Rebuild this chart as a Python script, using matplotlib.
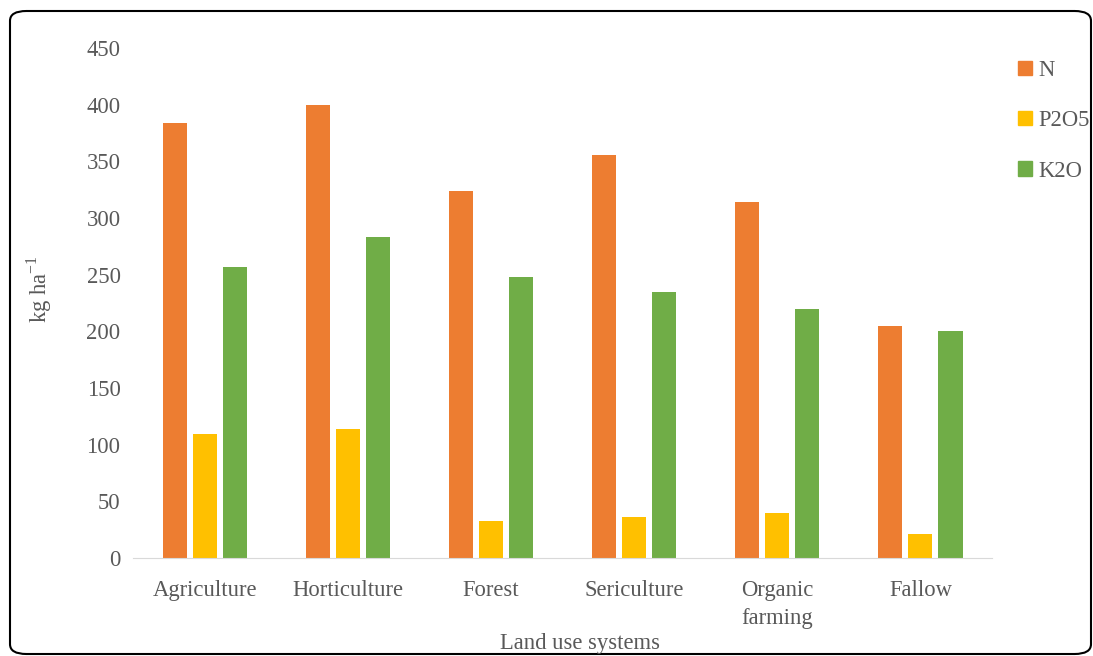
import matplotlib
matplotlib.use("Agg")
import matplotlib.pyplot as plt
import numpy as np
from matplotlib.patches import FancyBboxPatch, Patch

categories = ["Agriculture", "Horticulture", "Forest", "Sericulture", "Organic\nfarming", "Fallow"]
n_vals = [384, 400, 324, 356, 314, 205]
p2o5_vals = [109, 114, 33, 36, 40, 21]
k2o_vals = [257, 283, 248, 235, 220, 200]
series = ["N", "P2O5", "K2O"]
colors = ["#ED7D31", "#FFC000", "#70AD47"]

plt.rcParams["font.family"] = ["Liberation Serif", "DejaVu Serif"]
grey = "#595959"
fs = 16.3

fig = plt.figure(figsize=(10.93, 6.56), dpi=100)
ax = fig.add_axes([0.1217, 0.1494, 0.7859, 0.7774])

x = np.arange(len(categories))
w = 0.168
step = 0.21
for i, (vals, c, lab) in enumerate(zip([n_vals, p2o5_vals, k2o_vals], colors, series)):
    ax.bar(x + (i - 1) * step, vals, width=w, color=c, label=lab)

ax.set_xlim(-0.5, len(categories) - 0.5)
ax.set_ylim(0, 450)
ax.set_yticks(np.arange(0, 451, 50))
ax.set_xticks(x)
ax.set_xticklabels(categories, fontsize=fs, color=grey, linespacing=1.45)
ax.tick_params(axis="y", labelsize=fs, labelcolor=grey, length=0, pad=9)
ax.tick_params(axis="x", length=0, pad=16)
for s in ["top", "right", "left"]:
    ax.spines[s].set_visible(False)
ax.spines["bottom"].set_color("#d9d9d9")

# axis titles placed in figure coords
fig.text(0.531, 1 - 643 / 656, "Land use systems", fontsize=fs, color=grey, ha="center", va="center")
fig.text(0.036, 0.56, "kg ha$^{\\mathregular{-1}}$", rotation=90, fontsize=fs, color=grey,
         ha="center", va="center")

handles = [Patch(color=c) for c in colors]
fig.legend(handles, series, loc="upper left", bbox_to_anchor=(0.913, 0.94), frameon=False,
           fontsize=fs, labelcolor=grey, handlelength=0.6, handleheight=0.6,
           handletextpad=0.3, labelspacing=1.3)

frame = FancyBboxPatch((10 / 1093, 2 / 656), 1081 / 1093, 643 / 656,
                       boxstyle="round,pad=0,rounding_size=0.015",
                       transform=fig.transFigure, fill=False, edgecolor="black", linewidth=1.5)
fig.patches.append(frame)

fig.savefig("out.png", dpi=100)
